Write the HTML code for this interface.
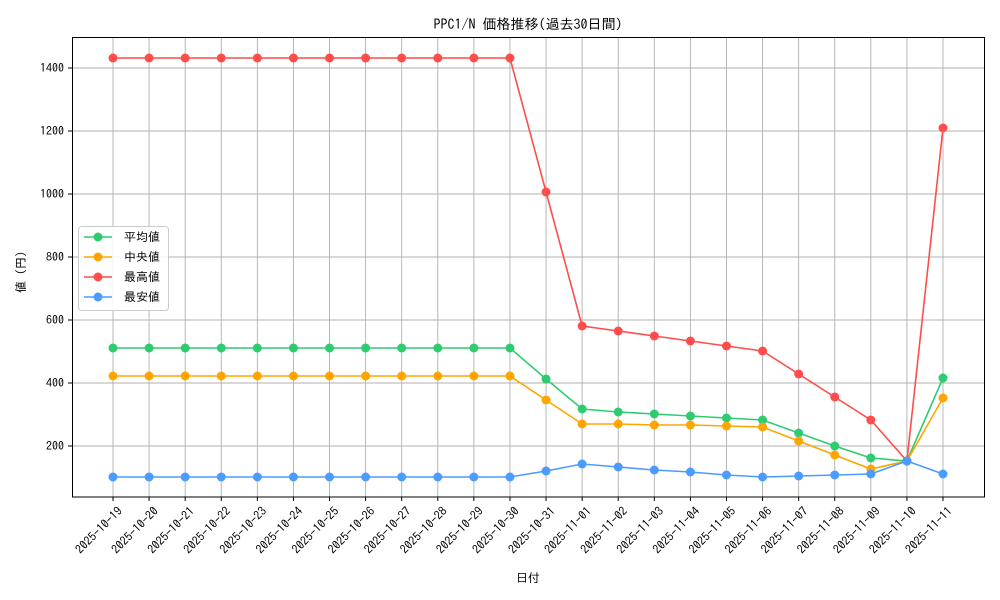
<!DOCTYPE html><html><head><meta charset="utf-8"><style>body{margin:0;background:#fff}svg{display:block}text{font-family:"IPAGothic","Noto Sans CJK JP",sans-serif;font-size:12px;fill:#000}</style></head><body>
<svg width="1000" height="600" viewBox="0 0 1000 600" xmlns="http://www.w3.org/2000/svg">
<rect width="1000" height="600" fill="#fff"/>
<text x="528" y="29" text-anchor="middle" style="font-size:14px">PPC1/N 価格推移(過去30日間)</text>
<g id="grid" stroke="#b0b0b0" stroke-width="0.9"></g>
<rect x="72.5" y="37.5" width="912" height="459.5" fill="none" stroke="#000" stroke-width="1"/>
<g id="series"></g>
<g id="axes"></g>
<text x="528" y="582" text-anchor="middle">日付</text>
<text transform="translate(25,272) rotate(-90)" text-anchor="middle">値 (円)</text>
<g>
<rect x="78.5" y="226.5" width="90" height="84" rx="3" fill="#fff" fill-opacity="0.85" stroke="#ccc"/>
<line x1="84" x2="112" y1="237" y2="237" stroke="#2ecc71" stroke-width="1.5"/><circle cx="98" cy="237" r="4.5" fill="#2ecc71"/><text x="124" y="241">平均値</text>
<line x1="84" x2="112" y1="257" y2="257" stroke="#ffa500" stroke-width="1.5"/><circle cx="98" cy="257" r="4.5" fill="#ffa500"/><text x="124" y="261">中央値</text>
<line x1="84" x2="112" y1="277" y2="277" stroke="#ff4c4c" stroke-width="1.5"/><circle cx="98" cy="277" r="4.5" fill="#ff4c4c"/><text x="124" y="281">最高値</text>
<line x1="84" x2="112" y1="297" y2="297" stroke="#4c9bff" stroke-width="1.5"/><circle cx="98" cy="297" r="4.5" fill="#4c9bff"/><text x="124" y="301">最安値</text>
</g>
</svg>
<script>
const ns="http://www.w3.org/2000/svg";
function el(p,t,a,txt){const e=document.createElementNS(ns,t);for(const k in a)e.setAttribute(k,a[k]);if(txt!=null)e.textContent=txt;document.querySelector(p).appendChild(e);return e;}
const X=i=>113+i*36.087;
const dates=[];for(let d=19;d<=31;d++)dates.push("2025-10-"+d);for(let d=1;d<=11;d++)dates.push("2025-11-"+String(d).padStart(2,"0"));
const yt={200:446,400:383,600:320,800:257,1000:194,1200:131,1400:68};
dates.forEach((d,i)=>{const x=X(i);el("#grid","line",{x1:x,x2:x,y1:37.5,y2:497});el("#axes","line",{x1:x,x2:x,y1:497,y2:501,stroke:"#000"});
el("#axes","text",{transform:`translate(${x+4},${506}) rotate(-45)`,"text-anchor":"end",dy:"0.7em"},d);});
for(const v in yt){const y=yt[v];el("#grid","line",{x1:72.5,x2:984.5,y1:y,y2:y});el("#axes","line",{x1:68,x2:72.5,y1:y,y2:y,stroke:"#000"});el("#axes","text",{x:64,y:y+4,"text-anchor":"end"},v);}
const rep=(v,n)=>Array(n).fill(v);
const S=[
["#2ecc71",rep(348,12).concat([379,409,412,414,416,418,420,433,446,458,461,378])],
["#ffa500",rep(376,12).concat([400,424,424,425,425,426,427,441,455,469,461,398])],
["#ff4c4c",rep(58,12).concat([192,326,331,336,341,346,351,374,397,420,461,128])],
["#4c9bff",rep(477,12).concat([471,464,467,470,472,475,477,476,475,474,461,474])]];
S.forEach(([c,ys])=>{el("#series","polyline",{points:ys.map((y,i)=>X(i)+","+y).join(" "),fill:"none",stroke:c,"stroke-width":1.6});
ys.forEach((y,i)=>el("#series","circle",{cx:X(i),cy:y,r:4.5,fill:c}));});
</script>
</body></html>
